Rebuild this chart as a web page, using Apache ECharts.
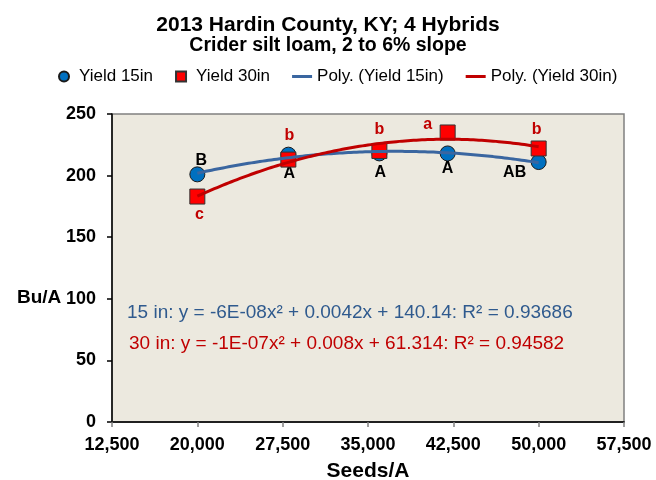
<!DOCTYPE html>
<html>
<head>
<meta charset="utf-8">
<script src="https://cdn.jsdelivr.net/npm/echarts@6/dist/echarts.min.js"></script>
<style>
  html, body { margin: 0; padding: 0; background: #fff; }
  #chart { width: 656px; height: 480px; }
</style>
</head>
<body>
<div id="chart"></div>
<script>
// seeding rates (seeds/A)
const seeds = [20000, 28000, 36000, 42000, 50000];
// yields (bu/A)
const yield15 = [201, 217, 218, 218, 211];
const yield30 = [183, 213, 220, 235, 222];
// mean separation letters
const letters15 = ['B', 'A', 'A', 'A', 'AB'];
const letters30 = ['c', 'b', 'b', 'a', 'b'];
// x axis ticks
const xTicks = [12500, 20000, 27500, 35000, 42500, 50000, 57500];

const eq15 = '15 in: y = -6E-08x\u00b2 + 0.0042x + 140.14: R\u00b2 = 0.93686';
const eq30 = '30 in: y = -1E-07x\u00b2 + 0.008x + 61.314: R\u00b2 = 0.94582';

const FONT = '"Liberation Sans", Arial, sans-serif';

// least squares 2nd order fit, like the spreadsheet's poly trendline
function polyFit2(xs, ys) {
  const s = 1e-4; // scale x to keep the sums sane
  let n = xs.length, sx = 0, sx2 = 0, sx3 = 0, sx4 = 0, sy = 0, sxy = 0, sx2y = 0;
  for (let i = 0; i < n; i++) {
    const x = xs[i] * s, y = ys[i];
    sx += x; sx2 += x * x; sx3 += x * x * x; sx4 += x * x * x * x;
    sy += y; sxy += x * y; sx2y += x * x * y;
  }
  const m = [[n, sx, sx2, sy], [sx, sx2, sx3, sxy], [sx2, sx3, sx4, sx2y]];
  for (let c = 0; c < 3; c++) {
    for (let r = c + 1; r < 3; r++) {
      const f = m[r][c] / m[c][c];
      for (let k = c; k < 4; k++) m[r][k] -= f * m[c][k];
    }
  }
  const b = [0, 0, 0];
  for (let r = 2; r >= 0; r--) {
    let v = m[r][3];
    for (let k = r + 1; k < 3; k++) v -= m[r][k] * b[k];
    b[r] = v / m[r][r];
  }
  return (x) => b[0] + b[1] * x * s + b[2] * x * x * s * s;
}

function trend(xs, ys) {
  const f = polyFit2(xs, ys);
  const out = [];
  for (let x = xs[0]; x <= xs[xs.length - 1]; x += 500) out.push([x, f(x)]);
  return out;
}

// where each letter sits relative to its marker
const off15 = [[4, -14], [1, 19], [1, 19], [0, 15], [-24, 11]];
const off30 = [[2, 18], [1, -24], [0, -21], [-20, -8], [-2, -19]];

function points(ys, letters, offs, color) {
  return seeds.map((x, i) => ({
    value: [x, ys[i]],
    label: {
      show: true,
      formatter: letters[i],
      position: 'inside',
      offset: offs[i],
      color: color,
      fontSize: 16,
      fontWeight: 'bold',
      fontFamily: FONT
    }
  }));
}

const chart = echarts.init(document.getElementById('chart'), null, { renderer: 'canvas' });

const option = {
  backgroundColor: '#fff',
  animation: false,
  title: [
    {
      text: '2013 Hardin County, KY; 4 Hybrids',
      left: 'center', top: 15, padding: 0,
      textStyle: { fontSize: 21, fontWeight: 'bold', color: '#000', fontFamily: FONT }
    },
    {
      text: 'Crider silt loam, 2 to 6% slope',
      left: 'center', top: 36, padding: 0,
      textStyle: { fontSize: 19.5, fontWeight: 'bold', color: '#000', fontFamily: FONT }
    },
    {
      text: 'Bu/A',
      left: 17, top: 288, padding: 0,
      textStyle: { fontSize: 19, fontWeight: 'bold', color: '#000', fontFamily: FONT }
    }
  ],
  legend: {
    left: 58, top: 68, padding: 0,
    itemGap: 22, itemWidth: 20, itemHeight: 10,
    textStyle: { fontSize: 17, color: '#000', fontFamily: FONT },
    data: [
      { name: 'Yield 15in', icon: 'circle', itemStyle: { opacity: 1 } },
      { name: 'Yield 30in', icon: 'path://M0,0L10,0L10,10L0,10Z', itemStyle: { opacity: 1 } },
      { name: 'Poly. (Yield 15in)', icon: 'path://M0,0L20,0L20,3L0,3Z' },
      { name: 'Poly. (Yield 30in)', icon: 'path://M0,0L20,0L20,3L0,3Z' }
    ]
  },
  grid: {
    left: 112, right: 32, top: 114, bottom: 58,
    outerBoundsMode: 'none',
    show: true, backgroundColor: '#ECE9DF',
    borderColor: '#808080', borderWidth: 1.5
  },
  xAxis: [
    {
      type: 'value', min: 12500, max: 57500, interval: 7500,
      name: 'Seeds/A', nameLocation: 'middle', nameGap: 39,
      nameTextStyle: { fontSize: 21, fontWeight: 'bold', color: '#000', fontFamily: FONT },
      axisLine: { show: true, onZero: false, lineStyle: { color: '#808080', width: 2 } },
      axisTick: { show: true, length: 5, customValues: xTicks, lineStyle: { color: '#808080', width: 1.5 } },
      axisLabel: {
        customValues: xTicks, margin: 14,
        fontSize: 18, fontWeight: 'bold', color: '#000', fontFamily: FONT,
        formatter: (v) => v.toLocaleString('en-US')
      },
      splitLine: { show: false }
    },
    {
      type: 'value', position: 'top', min: 0, max: 1,
      axisLine: { show: true, lineStyle: { color: '#000', width: 1.5 } },
      axisTick: { show: false }, axisLabel: { show: false }, splitLine: { show: false }
    }
  ],
  yAxis: {
    type: 'value', min: 0, max: 250, interval: 50,
    axisLine: { show: true, lineStyle: { color: '#000', width: 1.5 } },
    axisTick: { show: true, length: 5, lineStyle: { color: '#000', width: 1.5 } },
    axisLabel: { margin: 16, fontSize: 18, fontWeight: 'bold', color: '#000', fontFamily: FONT },
    splitLine: { show: false }
  },
  graphic: [
    {
      type: 'text', left: 127, top: 303, silent: true,
      style: { text: eq15, fill: '#2F5A8E', font: '19px ' + FONT }
    },
    {
      type: 'text', left: 129, top: 334, silent: true,
      style: { text: eq30, fill: '#C00000', font: '19px ' + FONT }
    }
  ],
  series: [
    {
      name: 'Yield 15in', type: 'scatter', z: 2,
      symbol: 'circle', symbolSize: 15,
      itemStyle: { color: '#0070C0', borderColor: '#1a1a1a', borderWidth: 1, opacity: 1 },
      data: points(yield15, letters15, off15, '#000')
    },
    {
      name: 'Yield 30in', type: 'scatter', z: 3,
      symbol: 'rect', symbolSize: 15,
      itemStyle: { color: '#FF0000', borderColor: '#333', borderWidth: 1, opacity: 1 },
      data: points(yield30, letters30, off30, '#C00000')
    },
    {
      name: 'Poly. (Yield 15in)', type: 'line', z: 4,
      showSymbol: false, symbol: 'none', smooth: true,
      lineStyle: { color: '#3A66A0', width: 3 },
      itemStyle: { color: '#3A66A0' },
      data: trend(seeds, yield15)
    },
    {
      name: 'Poly. (Yield 30in)', type: 'line', z: 5,
      showSymbol: false, symbol: 'none', smooth: true,
      lineStyle: { color: '#C00000', width: 3 },
      itemStyle: { color: '#C00000' },
      data: trend(seeds, yield30)
    }
  ]
};

chart.setOption(option);
</script>
</body>
</html>
